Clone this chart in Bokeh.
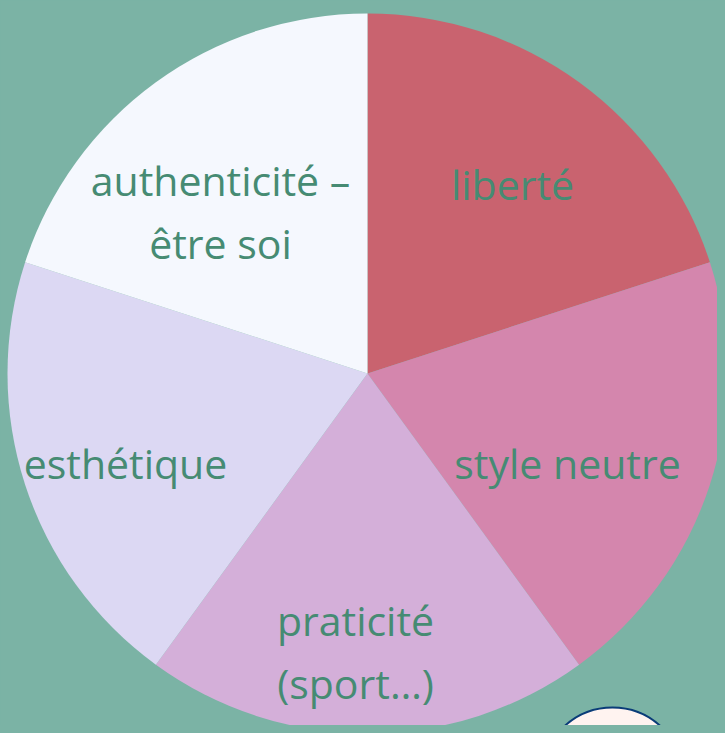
import math
from bokeh.plotting import figure
from bokeh.models import Range1d, ColumnDataSource
from bokeh.core.properties import value
from bokeh.embed import file_html
from bokeh.resources import INLINE

# Data
categories = ["liberté", "style neutre", "praticité\n(sport…)", "esthétique", "authenticité –\nêtre soi"]
values = [1, 1, 1, 1, 1]
colors = ["#C9636F", "#D486AD", "#D4AFD9", "#DCD8F3", "#F5F8FE"]

BG = "#7BB3A5"
TEXT = "#468B73"

W, H = 717, 725
p = figure(width=W, height=H, output_backend="svg", toolbar_location=None,
           x_range=Range1d(0, 717), y_range=Range1d(8, 733), min_border=0,
           background_fill_color=BG, border_fill_color=BG, outline_line_color=None)
p.axis.visible = False
p.grid.visible = False

cx, cy, R = 367, 360, 360

total = sum(values)
starts, ends = [], []
cum = 0
for v in values:
    end = math.radians(90 - cum / total * 360)
    cum += v
    start = math.radians(90 - cum / total * 360)
    starts.append(start)
    ends.append(end)

src = ColumnDataSource(dict(start=starts, end=ends, color=colors, cat=categories))
p.wedge(x=cx, y=cy, radius=R, start_angle="start", end_angle="end",
        fill_color="color", line_color=None, direction="anticlock", source=src)

# label anchor offsets (pixels from centre)
label_off = [(145, 190), (200, -89), (-12, -278), (-242, -89), (-147, 162)]
lx = [cx + dx for dx, dy in label_off]
ly = [cy + dy for dx, dy in label_off]
p.text(x=lx, y=ly, text=categories, text_align="center", text_baseline="middle",
       text_font=value("Open Sans"), text_font_size="41px", text_color=TEXT,
       text_line_height=1.13)

# decorative partial circle at bottom right
p.circle(x=[612], y=[-45], radius=71, fill_color="#FFF3F0", line_color="#0A3C78", line_width=2)

html = file_html(p, INLINE)
html = html.replace("</head>", "<style>html,body{background:%s;}</style></head>" % BG, 1)
open("out.html", "w").write(html)
